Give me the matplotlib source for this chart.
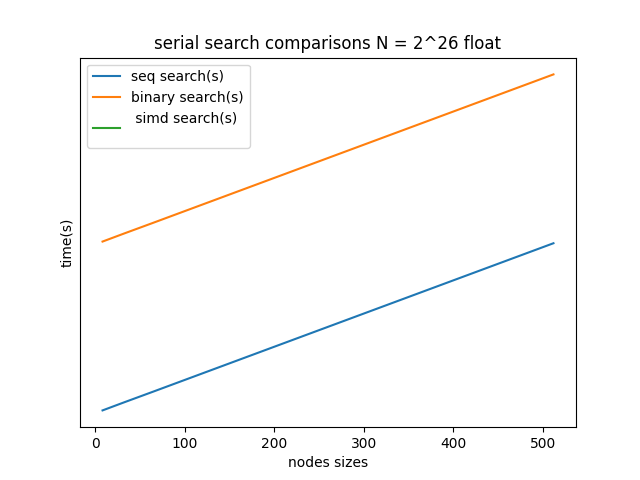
import matplotlib
matplotlib.use("Agg")
import matplotlib.pyplot as plt

node_sizes = [8, 16, 32, 64, 128, 256, 512]
seq_times = [1.00, 1.016, 1.048, 1.111, 1.238, 1.492, 2.00]
binary_times = [2.01, 2.026, 2.058, 2.121, 2.248, 2.502, 3.01]
simd_times = []

fig, ax = plt.subplots(figsize=(6.4, 4.8), dpi=100)
ax.plot(node_sizes, seq_times, label="seq search(s)")
ax.plot(node_sizes, binary_times, label="binary search(s)")
ax.plot(simd_times, simd_times, label=" simd search(s)\n")
ax.set_yticks([])
ax.set_xlabel("nodes sizes")
ax.set_ylabel("time(s)")
ax.set_title("serial search comparisons N = 2^26 float")
ax.legend(loc="upper left")
fig.savefig("out.png")
